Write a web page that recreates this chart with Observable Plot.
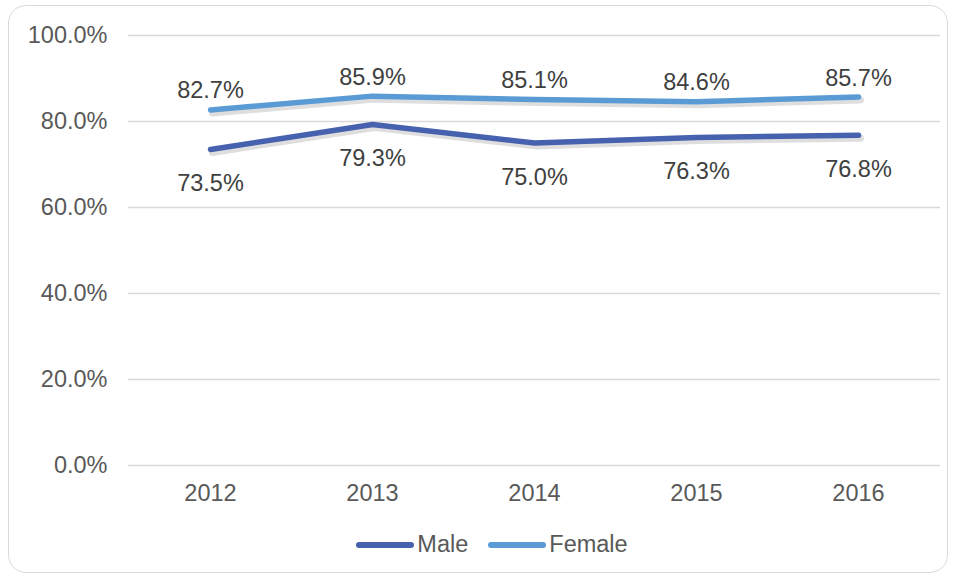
<!DOCTYPE html>
<html>
<head>
<meta charset="utf-8">
<script src="https://cdn.jsdelivr.net/npm/d3@7"></script>
<script src="https://cdn.jsdelivr.net/npm/@observablehq/plot@0.6"></script>
<style>
  html, body { margin: 0; padding: 0; background: #fff; }
  #wrap { position: relative; width: 956px; height: 578px; font-family: "Liberation Sans", Arial, sans-serif; }
  #frame { position: absolute; left: 8px; top: 5px; border: 1.5px solid #d9d9d9; border-radius: 18px; box-sizing: border-box; width: 940px; height: 568px; }
  #chart { position: absolute; left: 0; top: 0; }
  #legend { position: absolute; top: 531px; left: 14px; width: 956px; display: flex; justify-content: center; align-items: center; font-size: 23.5px; color: #595959; }
  .item { display: flex; align-items: center; margin: 0 10px; }
  .swatch { width: 58px; height: 6px; border-radius: 3px; margin-right: 3px; }
</style>
</head>
<body>
<div id="wrap">
  <div id="frame"></div>
  <div id="chart"></div>
  <div id="legend"></div>
</div>
<script>
const years = ["2012", "2013", "2014", "2015", "2016"];
const male = [73.5, 79.3, 75.0, 76.3, 76.8];
const female = [82.7, 85.9, 85.1, 84.6, 85.7];
const seriesNames = ["Male", "Female"];
const colors = ["#4662ae", "#5b9bd5"];
const yTicks = [0, 20, 40, 60, 80, 100];

const rows = [];
years.forEach((y, i) => {
  rows.push({year: y, value: male[i], series: "Male"});
  rows.push({year: y, value: female[i], series: "Female"});
});
const maleRows = rows.filter(d => d.series === "Male");
const femaleRows = rows.filter(d => d.series === "Female");
const fmt = v => v.toFixed(1) + "%";
const FS = 23.5;

const chart = Plot.plot({
  width: 956,
  height: 510,
  marginLeft: 128,
  marginRight: 16,
  marginTop: 35,
  marginBottom: 45,
  style: {fontFamily: "Liberation Sans, Arial, sans-serif", fontSize: FS + "px", color: "#595959", background: "transparent", overflow: "visible"},
  x: {type: "band", domain: years, padding: 0, label: null},
  y: {domain: [0, 100], label: null},
  color: {domain: seriesNames, range: colors},
  marks: [
    Plot.ruleY(yTicks, {stroke: "#d9d9d9", strokeWidth: 1.3}),
    Plot.axisY({ticks: yTicks, tickSize: 0, tickPadding: 21, tickFormat: v => v.toFixed(1) + "%", fontSize: FS, fill: "#595959", label: null}),
    Plot.axisX({tickSize: 0, tickPadding: 19, fontSize: FS, fill: "#595959", label: null}),
    Plot.line(rows, {x: "year", y: "value", z: "series", stroke: "#000", strokeOpacity: 0.13, strokeWidth: 7, dx: 2, dy: 3, strokeLinecap: "round", strokeLinejoin: "round"}),
    Plot.line(rows, {x: "year", y: "value", z: "series", stroke: "series", strokeWidth: 5.5, strokeLinecap: "round", strokeLinejoin: "round"}),
    Plot.text(femaleRows, {x: "year", y: "value", text: d => fmt(d.value), dy: -19, fontSize: FS, fill: "#404040"}),
    Plot.text(maleRows, {x: "year", y: "value", text: d => fmt(d.value), dy: 34, fontSize: FS, fill: "#404040"})
  ]
});
document.getElementById("chart").appendChild(chart);

const legend = document.getElementById("legend");
seriesNames.forEach((name, i) => {
  const item = document.createElement("div");
  item.className = "item";
  const sw = document.createElement("div");
  sw.className = "swatch";
  sw.style.background = colors[i];
  const t = document.createElement("span");
  t.textContent = name;
  item.appendChild(sw);
  item.appendChild(t);
  legend.appendChild(item);
});
</script>
</body>
</html>
